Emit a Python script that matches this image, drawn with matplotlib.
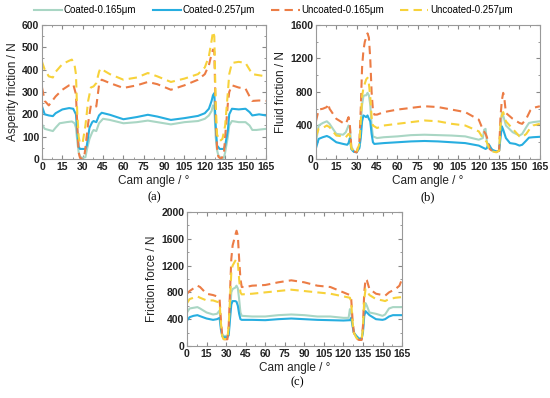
import matplotlib
matplotlib.use("Agg")
import matplotlib.pyplot as plt
from matplotlib.lines import Line2D
from matplotlib.ticker import MultipleLocator, AutoMinorLocator

plt.rcParams['font.family'] = ['Liberation Sans', 'DejaVu Sans']

labels = ["Coated-0.165μm", "Coated-0.257μm", "Uncoated-0.165μm", "Uncoated-0.257μm"]
colors = ["#a9d6c4", "#27aee0", "#ec7c45", "#f7d23a"]
styles = ["-", "-", "--", "--"]

# ---- (a) Asperity friction ----
a_c165_x = [0, 2, 5, 8, 10, 13, 18, 22, 24, 25, 26, 27, 28, 30, 32, 33, 35, 37, 38, 40, 42, 45, 50, 60, 70, 78, 85, 95, 105, 115, 120, 123, 125, 126, 127, 128, 129, 130, 132, 134, 135, 137, 138, 140, 145, 150, 153, 155, 158, 165]
a_c165_y = [155, 135, 130, 125, 140, 160, 165, 168, 160, 140, 80, 30, 10, 5, 8, 40, 90, 120, 130, 125, 160, 180, 175, 160, 165, 172, 165, 155, 165, 170, 180, 195, 215, 240, 230, 100, 40, 15, 5, 5, 30, 100, 150, 170, 165, 165, 150, 130, 130, 135]
a_c257_x = [0, 2, 5, 8, 10, 15, 20, 23, 25, 26, 27, 28, 32, 33, 35, 37, 38, 40, 42, 44, 50, 60, 70, 78, 85, 95, 105, 115, 120, 123, 125, 126, 127, 128, 129, 131, 134, 135, 137, 138, 140, 145, 150, 153, 155, 160, 165]
a_c257_y = [235, 200, 195, 192, 205, 222, 228, 225, 200, 120, 55, 45, 45, 60, 140, 165, 170, 165, 195, 207, 198, 178, 188, 198, 190, 175, 183, 193, 205, 225, 260, 285, 295, 150, 60, 45, 45, 60, 130, 200, 225, 222, 225, 210, 195, 200, 195]
a_u165_x = [0, 2, 5, 10, 15, 20, 23, 25, 26, 27, 28, 30, 31, 32, 34, 36, 38, 40, 42, 44, 50, 60, 70, 78, 85, 95, 105, 115, 120, 123, 125, 126, 127, 128, 129, 130, 132, 134, 135, 137, 138, 140, 145, 150, 153, 155, 160, 165]
a_u165_y = [320, 260, 240, 280, 310, 330, 335, 290, 150, 30, 5, 0, 5, 50, 160, 240, 240, 235, 330, 355, 340, 318, 330, 345, 335, 310, 330, 355, 380, 420, 470, 490, 480, 200, 50, 10, 0, 20, 100, 250, 300, 330, 320, 315, 280, 260, 262, 260]
a_u257_x = [0, 2, 5, 8, 10, 15, 20, 22, 24, 25, 26, 27, 28, 30, 32, 34, 36, 38, 40, 42, 43, 50, 60, 70, 78, 85, 95, 105, 115, 120, 123, 125, 126, 127, 128, 129, 131, 133, 135, 137, 138, 140, 145, 150, 153, 155, 160, 165]
a_u257_y = [435, 400, 370, 365, 390, 425, 440, 445, 420, 380, 200, 100, 70, 75, 150, 260, 320, 325, 340, 390, 405, 380, 355, 365, 385, 370, 345, 360, 380, 410, 460, 530, 570, 550, 250, 110, 80, 90, 150, 300, 380, 430, 435, 430, 400, 380, 375, 370]

# ---- (b) Fluid friction ----
b_c165_x = [0, 2, 5, 8, 10, 15, 20, 22, 24, 25, 26, 28, 30, 32, 33, 34, 35, 36, 37, 38, 39, 40, 41, 42, 45, 50, 60, 70, 80, 90, 100, 110, 120, 123, 124, 125, 126, 127, 128, 130, 133, 135, 136, 137, 138, 140, 145, 150, 152, 155, 157, 160, 165]
b_c165_y = [200, 400, 430, 450, 420, 300, 290, 320, 400, 380, 150, 90, 80, 150, 400, 650, 750, 760, 760, 790, 760, 650, 400, 270, 250, 260, 270, 285, 290, 285, 280, 270, 230, 250, 350, 360, 200, 150, 140, 100, 85, 100, 350, 550, 520, 400, 320, 280, 300, 380, 430, 440, 450]
b_c257_x = [0, 2, 5, 8, 10, 15, 20, 23, 24, 25, 26, 27, 28, 30, 32, 33, 34, 35, 36, 37, 38, 39, 40, 41, 42, 43, 50, 60, 70, 80, 90, 100, 110, 120, 125, 126, 127, 128, 129, 130, 133, 135, 136, 137, 138, 140, 143, 147, 150, 152, 155, 157, 160, 165]
b_c257_y = [130, 240, 260, 275, 260, 200, 180, 170, 190, 250, 120, 100, 85, 80, 130, 250, 450, 520, 510, 500, 520, 480, 450, 300, 200, 180, 190, 200, 210, 215, 210, 200, 190, 160, 120, 130, 180, 160, 130, 110, 90, 100, 250, 390, 350, 250, 190, 180, 160, 170, 220, 255, 260, 265]
b_u165_x = [0, 2, 5, 8, 9, 10, 15, 20, 22, 24, 25, 26, 28, 30, 32, 33, 34, 35, 36, 37, 38, 39, 40, 41, 42, 43, 45, 50, 60, 70, 80, 90, 100, 110, 120, 123, 125, 126, 127, 128, 130, 133, 135, 136, 137, 138, 139, 140, 145, 150, 152, 155, 158, 160, 165]
b_u165_y = [450, 590, 600, 620, 660, 600, 480, 430, 420, 500, 400, 150, 90, 80, 200, 600, 1100, 1300, 1400, 1450, 1500, 1450, 1200, 800, 580, 530, 530, 560, 590, 610, 630, 620, 590, 560, 470, 350, 300, 260, 200, 120, 95, 85, 100, 500, 700, 790, 700, 550, 480, 430, 420, 480, 580, 610, 630]
b_u257_x = [0, 2, 5, 8, 10, 15, 20, 22, 24, 25, 26, 28, 30, 32, 33, 34, 35, 36, 37, 38, 39, 40, 41, 42, 45, 50, 60, 70, 80, 90, 100, 110, 120, 123, 125, 126, 127, 128, 130, 133, 135, 136, 137, 138, 140, 145, 150, 152, 155, 158, 160, 165]
b_u257_y = [270, 360, 370, 400, 380, 280, 270, 260, 300, 280, 130, 90, 80, 180, 450, 750, 850, 900, 950, 970, 900, 750, 500, 400, 370, 400, 420, 440, 460, 450, 420, 400, 330, 250, 220, 200, 150, 110, 90, 80, 100, 400, 520, 560, 450, 360, 270, 260, 300, 370, 400, 420]

# ---- (c) Friction force ----
c_c165_x = [0, 2, 5, 8, 10, 15, 20, 23, 25, 26, 27, 28, 31, 32, 33, 34, 35, 37, 38, 39, 40, 41, 42, 50, 60, 70, 80, 90, 100, 110, 120, 124, 125, 126, 127, 128, 130, 132, 134, 135, 136, 137, 138, 140, 145, 150, 152, 155, 158, 160, 165]
c_c165_y = [500, 560, 570, 580, 560, 500, 470, 480, 530, 300, 180, 150, 150, 200, 500, 800, 850, 870, 900, 860, 700, 500, 450, 440, 440, 460, 470, 460, 440, 440, 420, 420, 550, 500, 350, 200, 130, 100, 100, 250, 550, 640, 600, 500, 480, 450, 470, 560, 580, 580, 580]
c_c257_x = [0, 2, 5, 8, 10, 15, 20, 23, 25, 26, 27, 28, 31, 32, 33, 34, 35, 37, 38, 39, 40, 41, 42, 50, 60, 70, 80, 90, 100, 110, 120, 125, 126, 127, 128, 130, 132, 134, 135, 136, 137, 138, 140, 145, 150, 152, 155, 158, 160, 165]
c_c257_y = [380, 430, 450, 460, 445, 410, 390, 400, 420, 250, 150, 130, 130, 160, 400, 620, 670, 670, 660, 600, 480, 400, 390, 390, 385, 400, 410, 400, 390, 385, 380, 385, 420, 300, 200, 150, 110, 110, 200, 450, 520, 500, 460, 400, 390, 400, 440, 460, 460, 460]
c_u165_x = [0, 2, 5, 8, 10, 15, 20, 23, 25, 26, 27, 28, 31, 32, 33, 34, 35, 37, 38, 39, 40, 41, 42, 45, 50, 60, 70, 80, 90, 100, 110, 120, 125, 126, 127, 128, 130, 132, 134, 135, 136, 137, 138, 140, 145, 150, 152, 155, 160, 163, 165]
c_u165_y = [780, 820, 860, 900, 880, 780, 760, 740, 700, 400, 150, 100, 100, 300, 800, 1300, 1500, 1650, 1720, 1650, 1300, 1000, 880, 880, 900, 910, 950, 980, 950, 900, 880, 800, 760, 700, 400, 200, 110, 90, 90, 300, 800, 1000, 980, 850, 780, 760, 750, 800, 850, 900, 1000]
c_u257_x = [0, 2, 5, 8, 10, 15, 20, 23, 25, 26, 27, 28, 31, 32, 33, 34, 35, 37, 38, 39, 40, 41, 42, 50, 60, 70, 80, 90, 100, 110, 120, 125, 126, 127, 128, 130, 132, 134, 135, 136, 137, 138, 140, 145, 150, 152, 155, 160, 165]
c_u257_y = [640, 700, 720, 740, 720, 680, 680, 660, 650, 350, 150, 100, 110, 300, 700, 1100, 1200, 1270, 1300, 1250, 1000, 800, 770, 780, 800, 820, 840, 820, 800, 780, 740, 720, 650, 350, 200, 120, 100, 100, 250, 700, 850, 820, 760, 700, 680, 670, 700, 720, 730]

panels = [
    dict(rect=[0.0764, 0.6005, 0.407, 0.3367], ylabel="Asperity friction / N", ymax=600, ystep=100,
         series=[(a_c165_x, a_c165_y), (a_c257_x, a_c257_y), (a_u165_x, a_u165_y), (a_u257_x, a_u257_y)],
         tag="(a)", tagpos=(0.28, 0.505)),
    dict(rect=[0.5745, 0.6005, 0.407, 0.3367], ylabel="Fluid friction / N", ymax=1600, ystep=400,
         series=[(b_c165_x, b_c165_y), (b_c257_x, b_c257_y), (b_u165_x, b_u165_y), (b_u257_x, b_u257_y)],
         tag="(b)", tagpos=(0.778, 0.505)),
    dict(rect=[0.34, 0.1307, 0.391, 0.3367], ylabel="Friction force / N", ymax=2000, ystep=400,
         series=[(c_c165_x, c_c165_y), (c_c257_x, c_c257_y), (c_u165_x, c_u165_y), (c_u257_x, c_u257_y)],
         tag="(c)", tagpos=(0.54, 0.04)),
]

DASH = (0, (4, 2.5))

fig = plt.figure(figsize=(5.5, 3.98), dpi=100)
for p in panels:
    ax = fig.add_axes(p["rect"])
    for (x, y), c, ls in zip(p["series"], colors, styles):
        ax.plot(x, y, color=c, lw=1.5, ls=(ls if ls == "-" else DASH))
    ax.set_xlim(0, 165)
    ax.set_ylim(0, p["ymax"])
    ax.xaxis.set_major_locator(MultipleLocator(15))
    ax.yaxis.set_major_locator(MultipleLocator(p["ystep"]))
    ax.xaxis.set_minor_locator(AutoMinorLocator(2))
    ax.yaxis.set_minor_locator(AutoMinorLocator(2))
    ax.tick_params(which="both", direction="in", top=True, right=True, labelsize=7.5, color="#888888", pad=2)
    ax.tick_params(which="major", length=3)
    ax.tick_params(which="minor", length=1.5)
    for lab in ax.get_xticklabels() + ax.get_yticklabels():
        lab.set_fontweight("bold")
        lab.set_color("#222222")
    for s in ax.spines.values():
        s.set_color("#999999")
        s.set_linewidth(0.8)
    ax.set_xlabel("Cam angle / °", fontsize=8.5, labelpad=2, color="#222222")
    ax.set_ylabel(p["ylabel"], fontsize=8.5, labelpad=2, color="#222222")
    fig.text(p["tagpos"][0], p["tagpos"][1], p["tag"], ha="center", va="center",
             fontsize=9, family="Liberation Serif")

handles = [Line2D([], [], color=c, lw=1.5, ls=(ls if ls == "-" else DASH)) for c, ls in zip(colors, styles)]
fig.legend(handles, labels, loc="center", bbox_to_anchor=(0.497, 0.975), ncol=4, frameon=False,
           fontsize=7, handlelength=2.9, handletextpad=0.15, columnspacing=1.7)

fig.savefig("out.png", dpi=100)
